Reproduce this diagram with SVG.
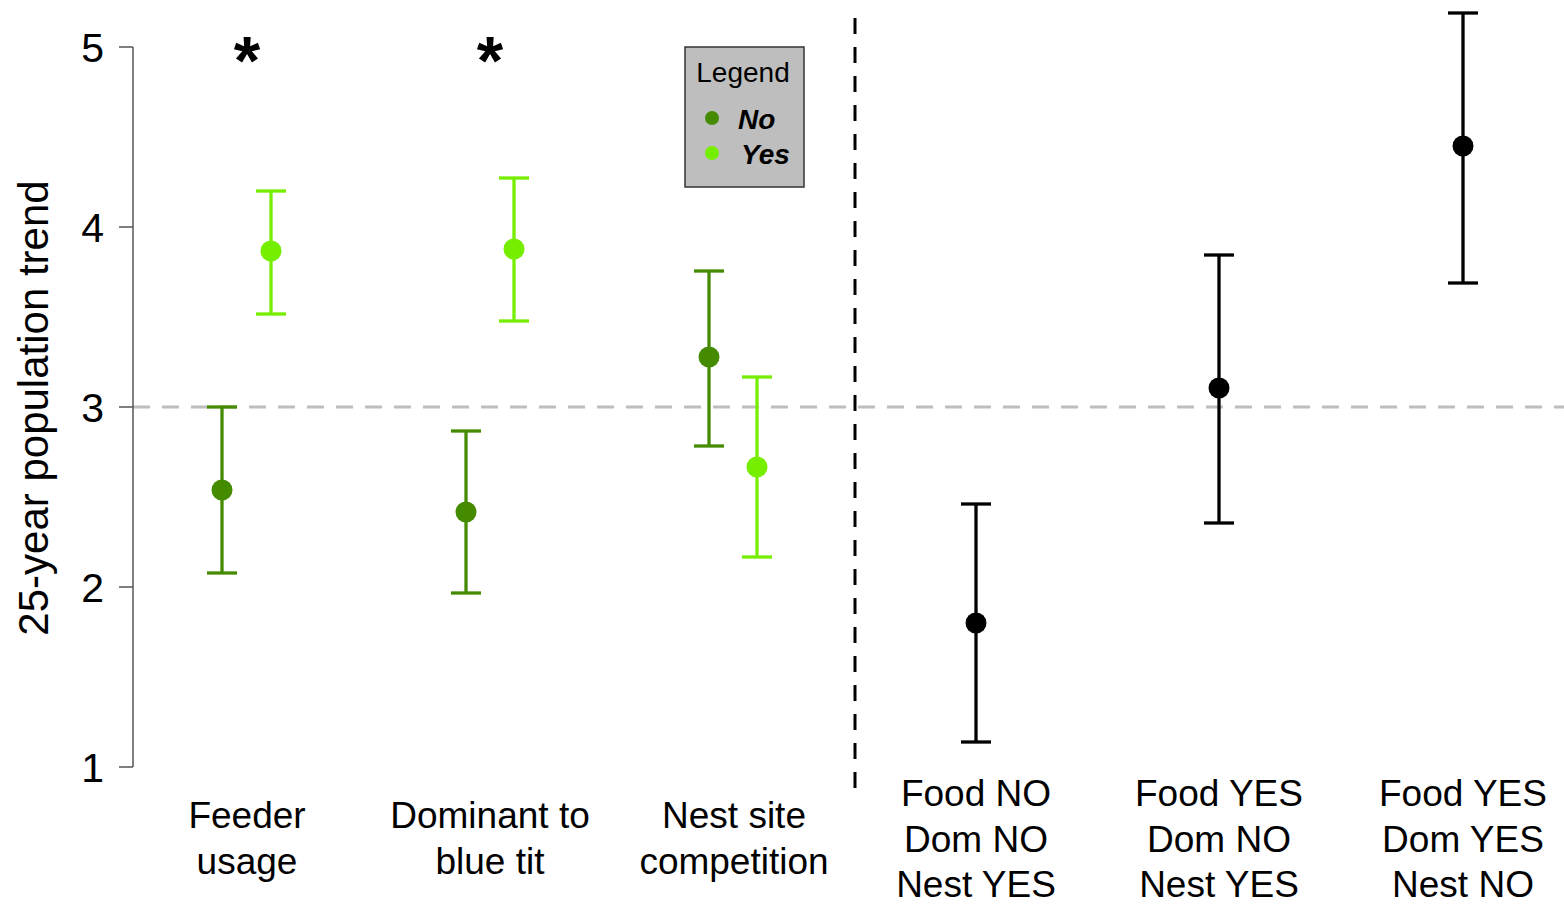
<svg xmlns="http://www.w3.org/2000/svg" width="1564" height="904" viewBox="0 0 1564 904">
<style>
text{font-family:"Liberation Sans",Arial,sans-serif;fill:#000}
.tick{font-size:41px;text-anchor:end}
.cat{font-size:37px;text-anchor:middle}
.no{stroke:#458B00;fill:#458B00}
.yes{stroke:#76EE00;fill:#76EE00}
.blk{stroke:#000;fill:#000}
.eb line{stroke-width:3.3;stroke-linecap:butt}
</style>
<rect width="1564" height="904" fill="#fff"/>
<g id="reference-lines">
<line x1="133" y1="407" x2="1564" y2="407" stroke="#BEBEBE" stroke-width="3" stroke-dasharray="17,12"/>
<line x1="855" y1="18" x2="855" y2="798" stroke="#000" stroke-width="3" stroke-dasharray="16,13"/>
</g>
<g id="y-axis" stroke="#555" stroke-width="1.5">
<line x1="133" y1="47" x2="133" y2="767"/>
<line x1="119" y1="47" x2="133" y2="47"/>
<line x1="119" y1="227" x2="133" y2="227"/>
<line x1="119" y1="407" x2="133" y2="407"/>
<line x1="119" y1="587" x2="133" y2="587"/>
<line x1="119" y1="767" x2="133" y2="767"/>
</g>
<g id="y-labels">
<text class="tick" x="104" y="62">5</text>
<text class="tick" x="104" y="242">4</text>
<text class="tick" x="104" y="422">3</text>
<text class="tick" x="104" y="602">2</text>
<text class="tick" x="104" y="782">1</text>
<text x="48" y="408" font-size="42" text-anchor="middle" transform="rotate(-90 48 408)">25-year population trend</text>
</g>
<g id="feeder-no" class="eb no">
<line x1="222" y1="407" x2="222" y2="573"/><line x1="207" y1="407" x2="237" y2="407"/><line x1="207" y1="573" x2="237" y2="573"/><circle cx="222" cy="490" r="10.5" stroke="none"/>
</g>
<g id="feeder-yes" class="eb yes">
<line x1="271" y1="191" x2="271" y2="314"/><line x1="256" y1="191" x2="286" y2="191"/><line x1="256" y1="314" x2="286" y2="314"/><circle cx="271" cy="251" r="10.5" stroke="none"/>
</g>
<g id="dominant-no" class="eb no">
<line x1="466" y1="431" x2="466" y2="593"/><line x1="451" y1="431" x2="481" y2="431"/><line x1="451" y1="593" x2="481" y2="593"/><circle cx="466" cy="512" r="10.5" stroke="none"/>
</g>
<g id="dominant-yes" class="eb yes">
<line x1="514" y1="178" x2="514" y2="321"/><line x1="499" y1="178" x2="529" y2="178"/><line x1="499" y1="321" x2="529" y2="321"/><circle cx="514" cy="249" r="10.5" stroke="none"/>
</g>
<g id="nest-no" class="eb no">
<line x1="709" y1="271" x2="709" y2="446"/><line x1="694" y1="271" x2="724" y2="271"/><line x1="694" y1="446" x2="724" y2="446"/><circle cx="709" cy="357" r="10.5" stroke="none"/>
</g>
<g id="nest-yes" class="eb yes">
<line x1="757" y1="377" x2="757" y2="557"/><line x1="742" y1="377" x2="772" y2="377"/><line x1="742" y1="557" x2="772" y2="557"/><circle cx="757" cy="467" r="10.5" stroke="none"/>
</g>
<g id="combo-1" class="eb blk">
<line x1="976" y1="504" x2="976" y2="742"/><line x1="961" y1="504" x2="991" y2="504"/><line x1="961" y1="742" x2="991" y2="742"/><circle cx="976" cy="623" r="10.5" stroke="none"/>
</g>
<g id="combo-2" class="eb blk">
<line x1="1219" y1="255" x2="1219" y2="523"/><line x1="1204" y1="255" x2="1234" y2="255"/><line x1="1204" y1="523" x2="1234" y2="523"/><circle cx="1219" cy="388" r="10.5" stroke="none"/>
</g>
<g id="combo-3" class="eb blk">
<line x1="1463" y1="13" x2="1463" y2="283"/><line x1="1448" y1="13" x2="1478" y2="13"/><line x1="1448" y1="283" x2="1478" y2="283"/><circle cx="1463" cy="146" r="10.5" stroke="none"/>
</g>
<g id="stars">
<text x="247" y="84" font-size="68" font-weight="bold" text-anchor="middle">*</text>
<text x="490" y="84" font-size="68" font-weight="bold" text-anchor="middle">*</text>
</g>
<g id="legend">
<rect x="685" y="47" width="119" height="140" fill="#BEBEBE" stroke="#333" stroke-width="1.5"/>
<text x="743" y="82" font-size="28" text-anchor="middle">Legend</text>
<circle cx="712" cy="118" r="7" fill="#458B00"/>
<circle cx="712" cy="153" r="7" fill="#76EE00"/>
<text x="738" y="129" font-size="28" font-weight="bold" font-style="italic">No</text>
<text x="741" y="164" font-size="28" font-weight="bold" font-style="italic">Yes</text>
</g>
<g id="x-labels">
<text class="cat" x="247" y="828">Feeder</text>
<text class="cat" x="247" y="874">usage</text>
<text class="cat" x="490" y="828">Dominant to</text>
<text class="cat" x="490" y="874">blue tit</text>
<text class="cat" x="734" y="828">Nest site</text>
<text class="cat" x="734" y="874">competition</text>
<text class="cat" x="976" y="806">Food NO</text>
<text class="cat" x="976" y="852">Dom NO</text>
<text class="cat" x="976" y="897">Nest YES</text>
<text class="cat" x="1219" y="806">Food YES</text>
<text class="cat" x="1219" y="852">Dom NO</text>
<text class="cat" x="1219" y="897">Nest YES</text>
<text class="cat" x="1463" y="806">Food YES</text>
<text class="cat" x="1463" y="852">Dom YES</text>
<text class="cat" x="1463" y="897">Nest NO</text>
</g>
</svg>
